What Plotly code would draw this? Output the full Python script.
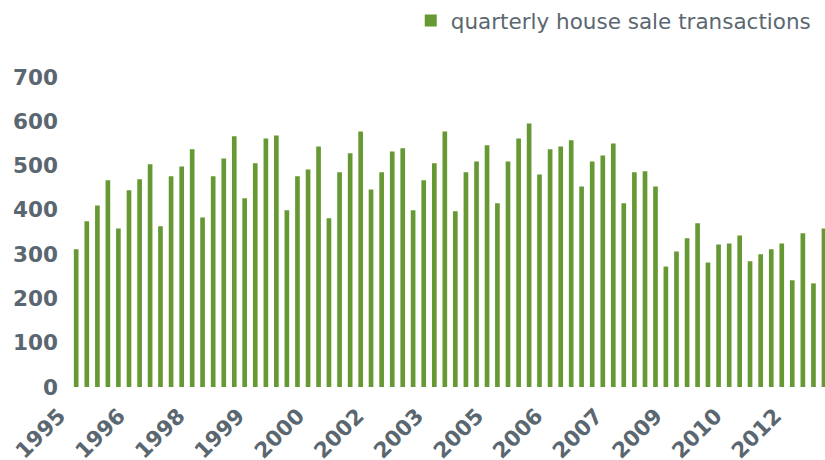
import plotly.graph_objects as go

# quarterly house sale transactions, 1995 Q1 .. 2012 Q4
years = list(range(1995, 2013))
quarter_months = ["03", "06", "09", "12"]
quarters = [f"{y}-{m}-01" for y in years for m in quarter_months]

transactions = [
    311, 374, 410, 467,   # 1995
    358, 444, 469, 503,   # 1996
    363, 476, 498, 537,   # 1997
    383, 476, 516, 566,   # 1998
    426, 505, 561, 568,   # 1999
    399, 476, 491, 543,   # 2000
    381, 485, 528, 577,   # 2001
    446, 485, 532, 539,   # 2002
    399, 467, 505, 577,   # 2003
    397, 485, 509, 546,   # 2004
    415, 509, 561, 595,   # 2005
    480, 537, 543, 557,   # 2006
    453, 509, 523, 550,   # 2007
    415, 485, 487, 453,   # 2008
    272, 306, 336, 370,   # 2009
    281, 322, 324, 342,   # 2010
    284, 300, 311, 324,   # 2011
    241, 347, 234, 358,   # 2012
]

tick_dates = ["1995-03-01", "1996-08-01", "1998-01-01", "1999-06-01", "2000-11-01",
              "2002-04-01", "2003-09-01", "2005-02-01", "2006-07-01", "2007-12-01",
              "2009-05-01", "2010-10-01", "2012-03-01"]
tick_labels = ["1995", "1996", "1998", "1999", "2000", "2002", "2003", "2005",
               "2006", "2007", "2009", "2010", "2012"]

GREEN = "#669933"
GREY = "#5b6770"

fig = go.Figure()
fig.add_trace(go.Bar(
    x=quarters, y=transactions, name="quarterly house sale transactions",
    marker=dict(color=GREEN, line=dict(width=0)),
))

fig.update_layout(
    width=825, height=460,
    margin=dict(l=71, r=0, t=77, b=73, autoexpand=False),
    paper_bgcolor="white", plot_bgcolor="white",
    bargap=0.55,
    showlegend=True,
    legend=dict(
        orientation="h", x=0.99, xanchor="right", y=1.0, yanchor="top",
        yref="container", xref="container",
        font=dict(family="DejaVu Sans", size=21.5, color=GREY),
        bgcolor="rgba(0,0,0,0)",
    ),
    xaxis=dict(
        type="date", automargin=False,
        range=["1995-01-15", "2012-12-10"],
        tickvals=tick_dates, ticktext=tick_labels,
        tickangle=-45,
        tickfont=dict(family="DejaVu Sans", size=21.5, color=GREY, weight="bold"),
        showgrid=False, zeroline=False, showline=False, ticks="",
        ticklabelstandoff=11, ticklabelshift=-17,
    ),
    yaxis=dict(
        automargin=False,
        range=[0, 700], dtick=100, tick0=0,
        tickfont=dict(family="DejaVu Sans", size=21.5, color=GREY, weight="bold"),
        showgrid=False, zeroline=False, showline=False, ticks="",
        ticklabelstandoff=12,
    ),
)

fig.write_html(
    "out.html",
    config={"displayModeBar": False},
    post_script="document.body.style.margin='0px';document.body.style.overflow='hidden';",
)
